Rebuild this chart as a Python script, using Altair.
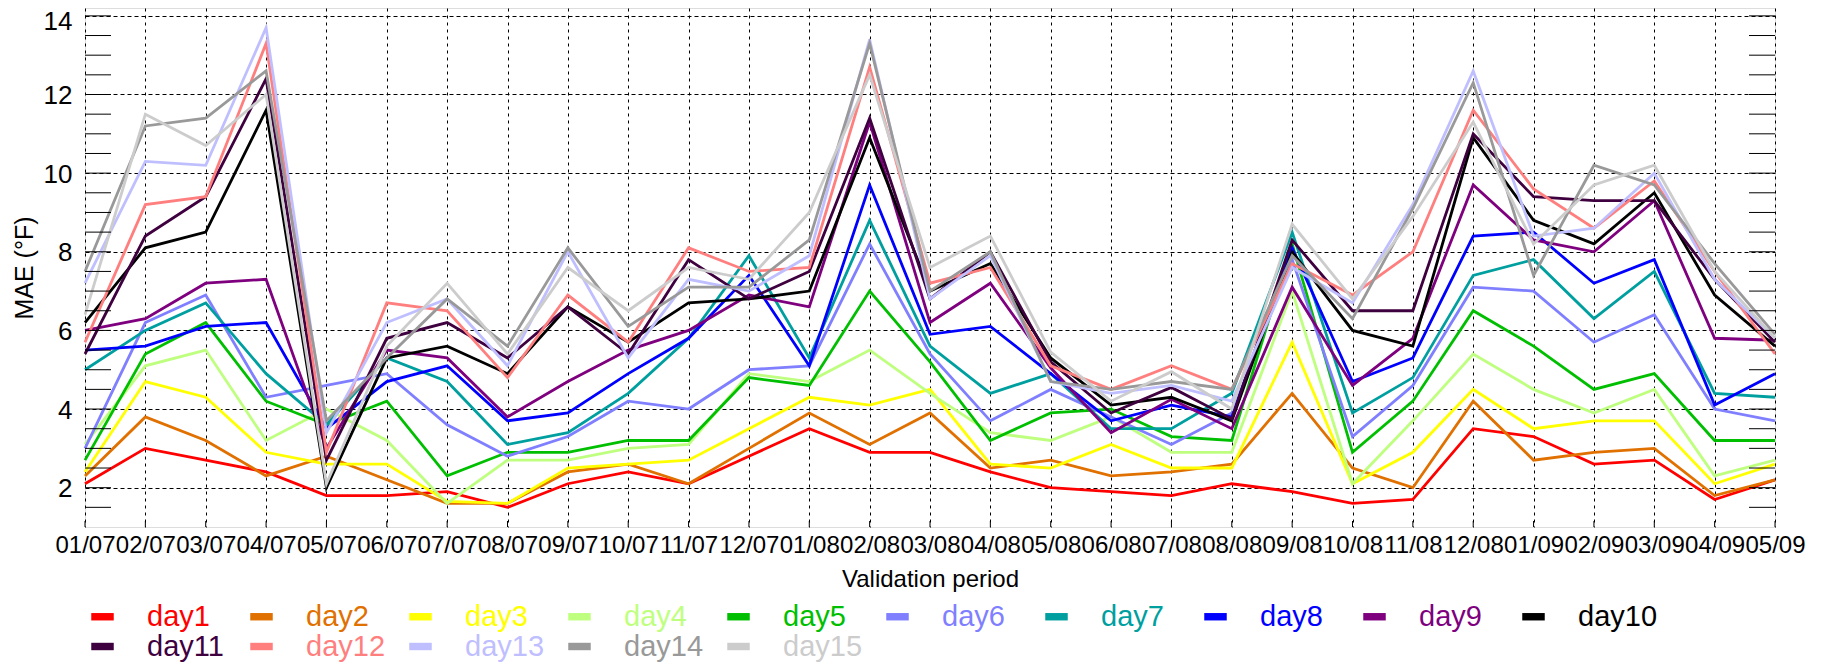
import altair as alt
import pandas as pd

periods = ["01/07", "02/07", "03/07", "04/07", "05/07", "06/07", "07/07", "08/07", "09/07", "10/07",
           "11/07", "12/07", "01/08", "02/08", "03/08", "04/08", "05/08", "06/08", "07/08", "08/08",
           "09/08", "10/08", "11/08", "12/08", "01/09", "02/09", "03/09", "04/09", "05/09"]

day1 = [2.1, 3.0, 2.7, 2.4, 1.8, 1.8, 1.9, 1.5, 2.1, 2.4, 2.1, 2.8, 3.5, 2.9, 2.9, 2.4, 2.0, 1.9, 1.8, 2.1, 1.9, 1.6, 1.7, 3.5, 3.3, 2.6, 2.7, 1.7, 2.2]
day2 = [2.3, 3.8, 3.2, 2.3, 2.8, 2.2, 1.6, 1.6, 2.4, 2.6, 2.1, 3.0, 3.9, 3.1, 3.9, 2.5, 2.7, 2.3, 2.4, 2.6, 4.4, 2.5, 2.0, 4.2, 2.7, 2.9, 3.0, 1.8, 2.2]
day3 = [2.4, 4.7, 4.3, 2.9, 2.6, 2.6, 1.65, 1.6, 2.5, 2.6, 2.7, 3.5, 4.3, 4.1, 4.5, 2.6, 2.5, 3.1, 2.5, 2.5, 5.7, 2.1, 2.9, 4.5, 3.5, 3.7, 3.7, 2.1, 2.6]
day4 = [3.1, 5.1, 5.5, 3.2, 4.0, 3.2, 1.6, 2.7, 2.7, 3.0, 3.1, 4.9, 4.7, 5.5, 4.4, 3.4, 3.2, 3.8, 2.9, 2.9, 7.0, 2.1, 3.7, 5.4, 4.5, 3.9, 4.5, 2.3, 2.7]
day5 = [2.7, 5.4, 6.2, 4.2, 3.6, 4.2, 2.3, 2.9, 2.9, 3.2, 3.2, 4.8, 4.6, 7.0, 5.2, 3.2, 3.9, 4.0, 3.3, 3.2, 8.2, 2.9, 4.2, 6.5, 5.6, 4.5, 4.9, 3.2, 3.2]
day6 = [3.0, 6.2, 6.9, 4.3, 4.6, 4.9, 3.6, 2.8, 3.3, 4.2, 4.0, 5.0, 5.1, 8.2, 5.4, 3.7, 4.5, 3.8, 3.1, 3.9, 7.8, 3.3, 4.6, 7.1, 7.0, 5.7, 6.4, 4.0, 3.7]
day7 = [5.0, 6.0, 6.7, 4.9, 3.6, 5.3, 4.7, 3.1, 3.4, 4.4, 5.8, 7.9, 5.3, 8.8, 5.6, 4.4, 4.9, 3.5, 3.5, 4.4, 8.5, 3.9, 4.8, 7.4, 7.8, 6.3, 7.5, 4.4, 4.3]
day8 = [5.5, 5.6, 6.1, 6.2, 3.5, 4.7, 5.1, 3.7, 3.9, 4.9, 5.8, 7.4, 5.1, 9.7, 5.9, 6.1, 4.9, 3.7, 4.1, 3.8, 8.1, 4.7, 5.3, 8.4, 8.5, 7.2, 7.8, 4.1, 4.9]
day9 = [6.0, 6.3, 7.2, 7.3, 3.0, 5.5, 5.3, 3.8, 4.7, 5.5, 6.0, 6.9, 6.6, 11.3, 6.2, 7.2, 5.05, 3.4, 4.25, 3.5, 7.1, 4.6, 5.8, 9.7, 8.3, 8.0, 9.3, 5.8, 5.75]
day10 = [6.2, 8.1, 8.5, 11.6, 2.0, 5.3, 5.6, 4.9, 6.6, 5.7, 6.7, 6.8, 7.0, 10.9, 7.0, 7.7, 5.3, 4.1, 4.3, 3.7, 8.0, 6.0, 5.6, 10.9, 8.8, 8.2, 9.5, 6.9, 5.6]
day11 = [5.4, 8.4, 9.4, 12.4, 2.7, 5.8, 6.2, 5.3, 6.6, 5.4, 7.8, 6.8, 7.5, 11.4, 6.8, 8.0, 5.2, 3.9, 4.55, 3.75, 8.3, 6.5, 6.5, 11.0, 9.4, 9.3, 9.3, 7.3, 5.7]
day12 = [5.7, 9.2, 9.4, 13.3, 2.9, 6.7, 6.5, 4.8, 6.9, 5.7, 8.1, 7.5, 7.6, 12.7, 7.2, 7.6, 5.1, 4.5, 5.1, 4.5, 7.7, 6.9, 8.0, 11.6, 9.6, 8.6, 9.8, 7.5, 5.4]
day13 = [7.2, 10.3, 10.2, 13.7, 3.4, 6.2, 6.8, 5.1, 8.0, 5.3, 7.3, 7.0, 7.9, 13.4, 6.8, 7.9, 4.7, 4.4, 4.6, 4.2, 7.6, 6.7, 9.2, 12.6, 8.4, 8.6, 10.0, 7.3, 5.8]
day14 = [7.5, 11.2, 11.4, 12.6, 3.7, 5.3, 6.8, 5.6, 8.1, 6.1, 7.1, 7.1, 8.3, 13.3, 7.0, 8.0, 4.7, 4.5, 4.7, 4.5, 7.9, 6.3, 9.1, 12.3, 7.4, 10.2, 9.7, 7.7, 5.9]
day15 = [6.4, 11.5, 10.7, 12.0, 2.1, 5.6, 7.2, 5.4, 7.6, 6.5, 7.6, 7.3, 9.0, 12.5, 7.6, 8.4, 5.45, 4.2, 4.95, 4.0, 8.7, 6.8, 8.9, 11.3, 8.2, 9.7, 10.2, 7.5, 5.8]

series_names = ["day1", "day2", "day3", "day4", "day5", "day6", "day7", "day8", "day9", "day10",
                "day11", "day12", "day13", "day14", "day15"]
series_values = [day1, day2, day3, day4, day5, day6, day7, day8, day9, day10,
                 day11, day12, day13, day14, day15]
series_colors = ["#FF0000", "#E07000", "#FFFF00", "#BFFF7F", "#00BF00", "#7F7FFF", "#009F9F", "#0000FF",
                 "#7F007F", "#000000", "#3F003F", "#FF7F7F", "#BFBFFF", "#999999", "#CCCCCC"]

y_labels = [2, 4, 6, 8, 10, 12, 14]
y_minor = [1.5 + 0.5 * i for i in range(26)]

rows = []
for k, (name, vals) in enumerate(zip(series_names, series_values)):
    for p, v in zip(periods, vals):
        rows.append({"period": p, "series": name, "mae": v, "order": k})
df = pd.DataFrame(rows)

W, H = 1690, 519
FONT = "Liberation Sans"
ydom = [1.0, 14.2]

xscale = alt.Scale(type="point", padding=0)
yscale = alt.Scale(domain=ydom, nice=False, zero=False)

lines = alt.Chart(df).mark_line(strokeWidth=2.8).encode(
    x=alt.X("period:O", sort=periods, scale=xscale,
            axis=alt.Axis(title="Validation period", labelAngle=0, labelFontSize=24, labelFont=FONT,
                          labelColor="black", grid=True, gridDash=[3, 4], gridColor="black",
                          gridOpacity=1, gridWidth=1, ticks=False, domain=False, labelPadding=6,
                          titleFont=FONT, titleFontSize=24, titleFontWeight="normal", titleColor="black",
                          titlePadding=10, labelOverlap=False)),
    y=alt.Y("mae:Q", scale=yscale,
            axis=alt.Axis(values=y_labels, title="MAE (°F)", labelFontSize=26, labelFont=FONT,
                          labelColor="black", grid=True, gridDash=[4, 3], gridColor="black",
                          gridOpacity=1, gridWidth=1, ticks=False, domain=False, labelPadding=13,
                          labelOffset={"condition": {"test": "datum.value >= 14", "value": 6}, "value": 1},
                          titleFont=FONT, titleFontSize=25, titleFontWeight="normal", titleColor="black",
                          titlePadding=6)),
    color=alt.Color("series:N", scale=alt.Scale(domain=series_names, range=series_colors),
                    legend=alt.Legend(title=None, orient="none", legendX=3, legendY=594,
                                      direction="horizontal", columns=10, gridAlign="all",
                                      symbolType="M-1,-0.33H1V0.33H-1Z", symbolSize=506,
                                      symbolStrokeWidth=0,
                                      symbolFillColor={"expr": "scale('color', datum.value)"},
                                      labelFontSize=29, labelFont=FONT, labelOffset=30,
                                      columnPadding=20, rowPadding=0, labelLimit=300,
                                      labelColor={"expr": "scale('color', datum.value)"})),
    order=alt.Order("order:Q"),
)

tick_df = pd.DataFrame({"mae": y_minor})
left_ticks = alt.Chart(tick_df).mark_rule(color="black", strokeWidth=1).encode(
    y=alt.Y("mae:Q", scale=yscale), x=alt.value(0), x2=alt.value(26))
right_ticks = alt.Chart(tick_df).mark_rule(color="black", strokeWidth=1).encode(
    y=alt.Y("mae:Q", scale=yscale), x=alt.value(W - 26), x2=alt.value(W))
xt_df = pd.DataFrame({"period": periods})
bottom_ticks = alt.Chart(xt_df).mark_rule(color="black", strokeWidth=1).encode(
    x=alt.X("period:O", sort=periods, scale=xscale), y=alt.value(H - 6), y2=alt.value(H))

chart = alt.layer(lines, left_ticks, right_ticks, bottom_ticks).properties(
    width=W, height=H,
    autosize=alt.AutoSizeParams(type="none"),
    padding={"left": 77, "top": 0, "right": 40, "bottom": 140},
).configure_view(stroke="black", strokeWidth=1).configure(background="white")

chart.save("out.html", embed_options={"renderer": "svg", "actions": False})
